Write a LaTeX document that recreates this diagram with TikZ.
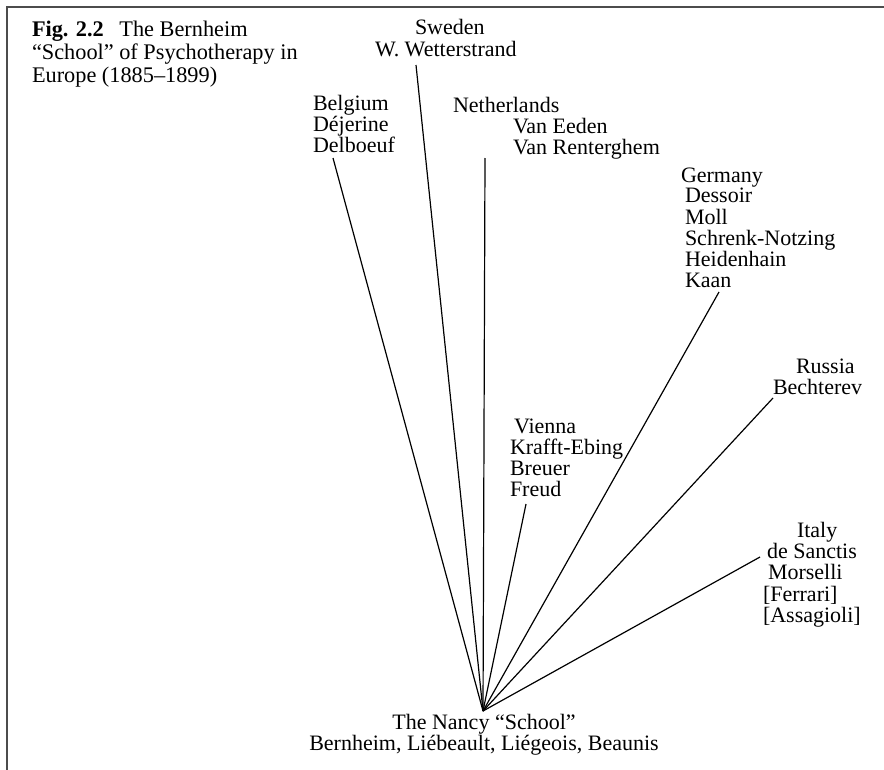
\documentclass[tikz,border=0pt]{standalone}
\usepackage{fontspec}
\setmainfont{Liberation Serif}
\newcommand{\grp}[1]{\begin{tabular}[t]{@{}l@{}}#1\end{tabular}}
\newcommand{\grpc}[1]{\begin{tabular}[t]{@{}c@{}}#1\end{tabular}}
\begin{document}
\begin{tikzpicture}[x=1bp,y=-1bp,
  lbl/.style={inner sep=0pt, outer sep=0pt, anchor=base west, font=\fontsize{22bp}{20.3bp}\selectfont},
  ttl/.style={inner sep=0pt, outer sep=0pt, anchor=base west, font=\fontsize{22.3bp}{23bp}\selectfont},
  conn/.style={line width=1.2bp, black},
  frame/.style={line width=1.6bp, black!70}]
\useasboundingbox (0,0) rectangle (884,770);
\draw[frame] (7,770) -- (7,7) -- (884,7);
\node[ttl] (title) at (32,37) {\grp{\textbf{Fig. 2.2}\hspace{0.7em}The Bernheim\\``School'' of Psychotherapy in\\Europe (1885--1899)}};
\node[lbl] (sweden) at (375,35) {\grp{\hspace*{40bp}Sweden\\W. Wetterstrand}};
\node[lbl] (belgium) at (313,110) {\grp{Belgium\\Déjerine\\Delboeuf}};
\node[lbl] (neth) at (453,112) {\grp{Netherlands\\\hspace*{60bp}Van Eeden\\\hspace*{60bp}Van Renterghem}};
\node[lbl] (germany) at (681,182) {\grp{Germany\\\hspace*{4bp}Dessoir\\\hspace*{4bp}Moll\\\hspace*{4bp}Schrenk-Notzing\\\hspace*{4bp}Heidenhain\\\hspace*{4bp}Kaan}};
\node[lbl] (russia) at (773,373) {\grp{\hspace*{23bp}Russia\\Bechterev}};
\node[lbl] (vienna) at (510,433) {\grp{\hspace*{4bp}Vienna\\Krafft-Ebing\\Breuer\\Freud}};
\node[lbl] (italy) at (763,537) {\grp{\hspace*{34bp}Italy\\\hspace*{4bp}de Sanctis\\\hspace*{5bp}Morselli\\\relax[Ferrari]\\\relax[Assagioli]}};
\node[lbl, anchor=base] (nancy) at (484,729) {\grpc{The Nancy ``School''\\Bernheim, Liébeault, Liégeois, Beaunis}};
\coordinate (hub) at (483,711);
\coordinate (belE) at (333,158);
\coordinate (sweE) at (416,65);
\coordinate (nethE) at (485,158);
\coordinate (gerE) at (719,292);
\coordinate (rusE) at (773,398);
\coordinate (itaE) at (760,557);
\coordinate (vieE) at (526,504);
\foreach \e in {belE,sweE,nethE,gerE,rusE,itaE,vieE}
  \draw[conn] (hub) -- (\e);
\end{tikzpicture}
\end{document}
